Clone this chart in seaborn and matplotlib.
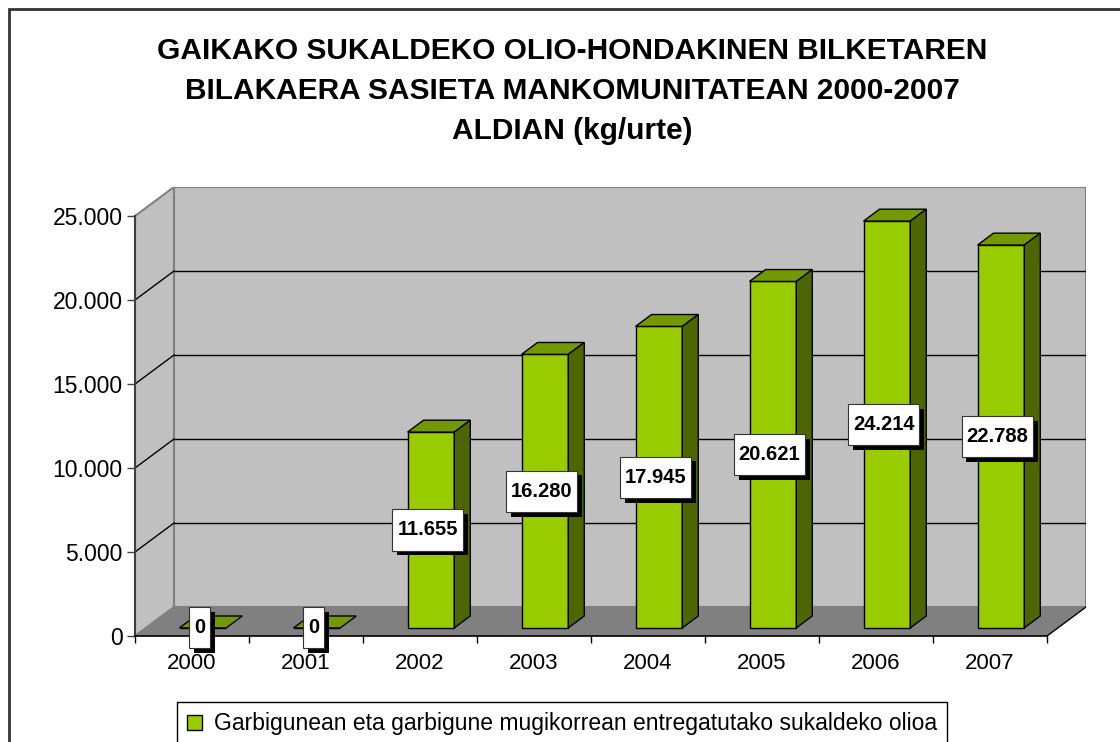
import matplotlib
matplotlib.use("Agg")
import matplotlib.pyplot as plt
import matplotlib.patheffects as pe
from matplotlib.patches import Polygon, Rectangle, Patch
from matplotlib.path import Path
import seaborn as sns

# Data
years = ["2000", "2001", "2002", "2003", "2004", "2005", "2006", "2007"]
kg_per_year = [0, 0, 11655, 16280, 17945, 20621, 24214, 22788]
y_ticks = [0, 5000, 10000, 15000, 20000, 25000]
title_lines = [
    "GAIKAKO SUKALDEKO OLIO-HONDAKINEN BILKETAREN",
    "BILAKAERA SASIETA MANKOMUNITATEAN 2000-2007",
    "ALDIAN (kg/urte)",
]
legend_label = "Garbigunean eta garbigune mugikorrean entregatutako sukaldeko olioa"

# Colours
FRONT = "#99cc00"
TOP = "#739900"
SIDE = "#4d6600"
WALL = "#c0c0c0"
FLOOR = "#808080"

plt.rcParams["font.family"] = ["Liberation Sans", "DejaVu Sans"]

# 3D depth of the plot box, in data units
YMAX = 25000
DX = 0.342
DY = 1726
BAR_FRONT = 0.28   # bar front face position along depth (0..1)
BAR_BACK = 0.69    # bar back face position along depth

W, H = 1120, 742
fig = plt.figure(figsize=(W / 100, H / 100), dpi=100)
ax = fig.add_axes([135 / W, 1 - 636 / H, (1086 - 135) / W, (636 - 187) / H])
ax.patch.set_visible(False)

n = len(years)
x0, x1 = -0.5, n - 0.5

# walls and floor
back_wall = Polygon([(x0 + DX, DY), (x1 + DX, DY), (x1 + DX, YMAX + DY), (x0 + DX, YMAX + DY)],
                    closed=True, facecolor=WALL, edgecolor=FLOOR, lw=1.5, zorder=0.5)
side_wall = Polygon([(x0, 0), (x0 + DX, DY), (x0 + DX, YMAX + DY), (x0, YMAX)],
                    closed=True, facecolor=WALL, edgecolor=FLOOR, lw=1.5, zorder=0.5)
floor = Polygon([(x0, 0), (x1, 0), (x1 + DX, DY), (x0 + DX, DY)],
                closed=True, facecolor=FLOOR, edgecolor="none", zorder=0.7)
for p in (back_wall, side_wall, floor):
    ax.add_patch(p)
ax.plot([x1, x1 + DX], [0, DY], color="black", lw=1, zorder=0.8)

for v in y_ticks[1:-1]:
    ax.plot([x0 + DX, x1 + DX], [v + DY, v + DY], color="black", lw=1, zorder=0.6)
    ax.plot([x0, x0 + DX], [v, v + DY], color="black", lw=1, zorder=0.6)

# front faces of the bars
sns.barplot(x=years, y=kg_per_year, ax=ax, color=FRONT, saturation=1,
            width=0.41, edgecolor="black", linewidth=1, errorbar=None, zorder=2)
bars = list(ax.containers[0])

ddx = (BAR_BACK - BAR_FRONT) * DX
ddy = (BAR_BACK - BAR_FRONT) * DY


def label_box(x0, y0, width, height, mutation_size):
    px, py = 0.25 * mutation_size, 0.55 * mutation_size
    return Path([(x0 - px, y0 - py), (x0 + width + px, y0 - py),
                 (x0 + width + px, y0 + height + py), (x0 - px, y0 + height + py),
                 (x0 - px, y0 - py)], closed=True)


for bar, v in zip(bars, kg_per_year):
    bar.set_x(bar.get_x() + BAR_FRONT * DX)
    bar.set_y(BAR_FRONT * DY)
    bx0 = bar.get_x()
    bx1 = bx0 + bar.get_width()
    bot = bar.get_y()
    top = bot + v
    ax.add_patch(Polygon([(bx0, top), (bx1, top), (bx1 + ddx, top + ddy), (bx0 + ddx, top + ddy)],
                         closed=True, facecolor=TOP, edgecolor="black", lw=1, zorder=2))
    if v > 0:
        ax.add_patch(Polygon([(bx1, bot), (bx1, top), (bx1 + ddx, top + ddy), (bx1 + ddx, bot + ddy)],
                             closed=True, facecolor=SIDE, edgecolor="black", lw=1, zorder=2))
    txt = ax.text((bx0 + bx1) / 2 - 0.03, bot + v / 2, f"{v:,}".replace(",", "."),
                  ha="center", va="center", fontsize=14.5, fontweight="bold", zorder=6,
                  bbox=dict(boxstyle=label_box, facecolor="white", edgecolor="#333333", lw=0.8))
    txt.get_bbox_patch().set_path_effects(
        [pe.SimplePatchShadow(offset=(3.5, -3.5), shadow_rgbFace="black", alpha=1), pe.Normal()])

ax.set_xlim(x0, x1 + DX)
ax.set_ylim(0, YMAX + DY)

# axes lines and ticks
for s in ("top", "right"):
    ax.spines[s].set_visible(False)
ax.spines["left"].set_bounds(0, YMAX)
ax.spines["left"].set_color("#404040")
ax.spines["left"].set_linewidth(1.5)
ax.spines["bottom"].set_bounds(x0, x1)
ax.spines["bottom"].set_color("black")
ax.spines["bottom"].set_linewidth(1.2)

ax.set_yticks(y_ticks)
ax.set_yticklabels([f"{t:,}".replace(",", ".") for t in y_ticks])
ax.tick_params(axis="y", length=6, width=1, pad=3, labelsize=16.5, color="#404040")
ax.set_xticks(range(n))
ax.set_xticklabels(years)
ax.set_xticks([i - 0.5 for i in range(n + 1)], minor=True)
ax.tick_params(axis="x", which="major", length=0, pad=12, labelsize=16)
ax.tick_params(axis="x", which="minor", length=5, width=1, color="black")
ax.set_xlabel("")
ax.set_ylabel("")

# title
for line, base in zip(title_lines, [59, 99, 139]):
    fig.text(572 / W, 1 - base / H, line, ha="center", va="baseline",
             fontsize=21.5, fontweight="bold")

# legend
fig.legend(handles=[Patch(facecolor=FRONT, edgecolor="black")], labels=[legend_label],
           loc="upper left", bbox_to_anchor=(177 / W, 1 - 702 / H), fontsize=16.5,
           frameon=True, fancybox=False, edgecolor="black", framealpha=1,
           handlelength=0.65, handleheight=0.65, handletextpad=0.5, borderpad=0.45,
           borderaxespad=0)

# outer chart border
fig.add_artist(Rectangle((9 / W, -0.1), 1.2, 1.1 - 9 / H, transform=fig.transFigure,
                         fill=False, edgecolor="#333333", lw=2))

fig.savefig("out.png", dpi=100)
